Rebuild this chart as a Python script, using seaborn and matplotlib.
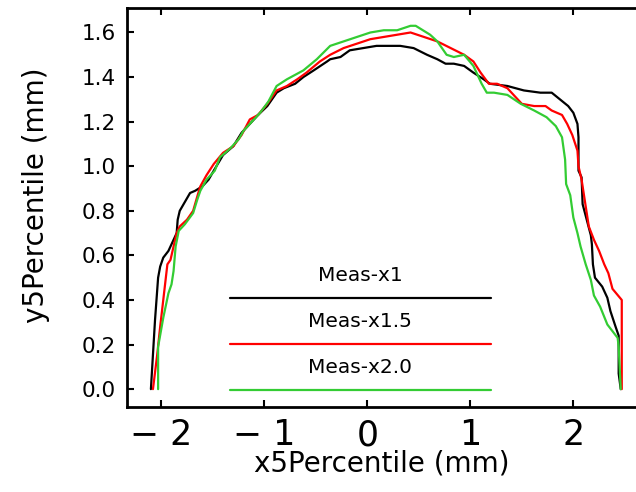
import pandas as pd
import seaborn as sns
import matplotlib.pyplot as plt

# traced profiles, three measurements
x_meas1 = [-2.10, -2.06, -2.03, -2.01, -1.98, -1.93, -1.88, -1.85, -1.84, -1.82, -1.77, -1.72, -1.67,
           -1.60, -1.54, -1.49, -1.40, -1.30, -1.22, -1.14, -1.06, -0.97, -0.88, -0.81, -0.70, -0.62,
           -0.52, -0.39, -0.36, -0.26, -0.17, -0.04, 0.09, 0.22, 0.32, 0.45, 0.58, 0.68, 0.76, 0.84,
           0.94, 1.03, 1.13, 1.19, 1.36, 1.52, 1.68, 1.79, 1.87, 1.95, 2.00, 2.04, 2.05, 2.05, 2.08,
           2.09, 2.13, 2.17, 2.18, 2.19, 2.21, 2.28, 2.33, 2.36, 2.41, 2.44, 2.44, 2.46]
y_meas1 = [0.00, 0.31, 0.50, 0.55, 0.59, 0.62, 0.67, 0.70, 0.76, 0.80, 0.84, 0.88, 0.89,
           0.91, 0.94, 0.98, 1.05, 1.09, 1.15, 1.19, 1.23, 1.27, 1.33, 1.35, 1.37, 1.40,
           1.43, 1.47, 1.48, 1.49, 1.52, 1.53, 1.54, 1.54, 1.54, 1.53, 1.50, 1.48, 1.46, 1.46,
           1.45, 1.42, 1.39, 1.37, 1.36, 1.34, 1.33, 1.33, 1.30, 1.27, 1.24, 1.19, 1.13, 0.98, 0.95,
           0.83, 0.76, 0.69, 0.65, 0.56, 0.50, 0.46, 0.41, 0.35, 0.28, 0.24, 0.07, 0.00]

x_meas15 = [-2.08, -2.04, -2.01, -1.98, -1.94, -1.91, -1.88, -1.85, -1.82, -1.75, -1.69, -1.64, -1.62,
            -1.56, -1.49, -1.40, -1.30, -1.22, -1.14, -1.06, -0.97, -0.88, -0.78, -0.68, -0.59, -0.46,
            -0.36, -0.23, -0.10, 0.03, 0.16, 0.29, 0.42, 0.55, 0.68, 0.81, 0.94, 1.03, 1.10, 1.18,
            1.26, 1.36, 1.42, 1.50, 1.62, 1.73, 1.79, 1.89, 1.94, 1.99, 2.04, 2.05, 2.08, 2.12, 2.15,
            2.20, 2.25, 2.30, 2.34, 2.38, 2.47, 2.47]
y_meas15 = [0.00, 0.15, 0.28, 0.40, 0.56, 0.58, 0.64, 0.70, 0.73, 0.76, 0.80, 0.88, 0.91,
            0.96, 1.01, 1.06, 1.09, 1.14, 1.21, 1.23, 1.28, 1.34, 1.36, 1.39, 1.42, 1.47,
            1.50, 1.53, 1.55, 1.57, 1.58, 1.59, 1.60, 1.58, 1.56, 1.53, 1.50, 1.47, 1.42, 1.37,
            1.37, 1.35, 1.32, 1.28, 1.27, 1.27, 1.25, 1.23, 1.19, 1.14, 1.07, 1.00, 0.94, 0.82, 0.73,
            0.67, 0.62, 0.56, 0.52, 0.45, 0.40, 0.00]

x_meas20 = [-2.03, -2.03, -1.98, -1.93, -1.90, -1.88, -1.86, -1.83, -1.77, -1.69, -1.65, -1.62, -1.56,
            -1.48, -1.43, -1.33, -1.25, -1.20, -1.14, -1.04, -0.96, -0.88, -0.78, -0.70, -0.62, -0.49,
            -0.36, -0.23, -0.10, 0.03, 0.16, 0.29, 0.42, 0.47, 0.61, 0.68, 0.77, 0.84, 0.94, 1.03,
            1.11, 1.16, 1.23, 1.36, 1.49, 1.62, 1.74, 1.83, 1.89, 1.92, 1.93, 1.97, 2.00, 2.04, 2.07,
            2.12, 2.17, 2.20, 2.26, 2.33, 2.43, 2.44, 2.46]
y_meas20 = [0.00, 0.19, 0.32, 0.43, 0.47, 0.53, 0.64, 0.71, 0.74, 0.79, 0.85, 0.89, 0.94,
            0.98, 1.04, 1.08, 1.12, 1.16, 1.19, 1.24, 1.29, 1.36, 1.39, 1.41, 1.43, 1.48,
            1.54, 1.56, 1.58, 1.60, 1.61, 1.61, 1.63, 1.63, 1.59, 1.56, 1.50, 1.49, 1.50, 1.45,
            1.37, 1.33, 1.33, 1.32, 1.28, 1.25, 1.22, 1.18, 1.13, 1.03, 0.92, 0.87, 0.77, 0.70, 0.64,
            0.56, 0.49, 0.42, 0.37, 0.29, 0.23, 0.19, 0.00]

labels = ["Meas-x1", "Meas-x1.5", "Meas-x2.0"]
colors = ["black", "#ff0000", "#33cc33"]
x_ticks = [-2, -1, 0, 1, 2]
y_ticks = [0.0, 0.2, 0.4, 0.6, 0.8, 1.0, 1.2, 1.4, 1.6]

sns.set_style("white")
plt.rcParams['font.family'] = ['DejaVu Sans']
plt.rcParams['text.color'] = 'black'
plt.rcParams['axes.labelcolor'] = 'black'
plt.rcParams['xtick.color'] = 'black'
plt.rcParams['ytick.color'] = 'black'

fig = plt.figure(figsize=(6.36, 4.92), dpi=100)
ax = fig.add_axes([0.2, 0.1728, 0.8003, 0.811])

series = [(x_meas1, y_meas1), (x_meas15, y_meas15), (x_meas20, y_meas20)]
for (xs, ys), lab, c in zip(series, labels, colors):
    df = pd.DataFrame({"x": xs, "y": ys})
    sns.lineplot(data=df, x="x", y="y", sort=False, estimator=None, color=c, linewidth=1.6, ax=ax)

# legend drawn as labelled lines (label above each line)
line_y = [0.273, 0.158, 0.043]
for lab, c, ly in zip(labels, colors, line_y):
    ax.plot([0.202, 0.715], [ly, ly], transform=ax.transAxes, color=c, linewidth=1.6)
    ax.text(0.458, ly + 0.057, lab, transform=ax.transAxes, ha="center", va="center", fontsize=14.5)

ax.set_xlim(-2.33, 2.61)
ax.set_ylim(-0.08, 1.71)
ax.set_xticks(x_ticks)
ax.set_yticks(y_ticks)
ax.set_xticklabels([f"{t:d}".replace("-", "\u2212 ") for t in x_ticks], fontsize=25)
ax.set_yticklabels([f"{t:.1f}" for t in y_ticks], fontsize=15.5)
ax.tick_params(axis="x", direction="in", length=5, width=1.5, top=True, bottom=True, pad=8)
ax.tick_params(axis="y", direction="in", length=5, width=1.5, left=True, pad=8)
ax.set_xlabel("x5Percentile (mm)", fontsize=20, labelpad=-2)
ax.set_ylabel("y5Percentile (mm)", fontsize=20, va="center")
ax.yaxis.set_label_coords(-0.18, 0.53)
for s in ["left", "bottom", "top"]:
    ax.spines[s].set_linewidth(2)
    ax.spines[s].set_color("black")
ax.spines["right"].set_visible(False)

plt.savefig("out.png", dpi=100)
